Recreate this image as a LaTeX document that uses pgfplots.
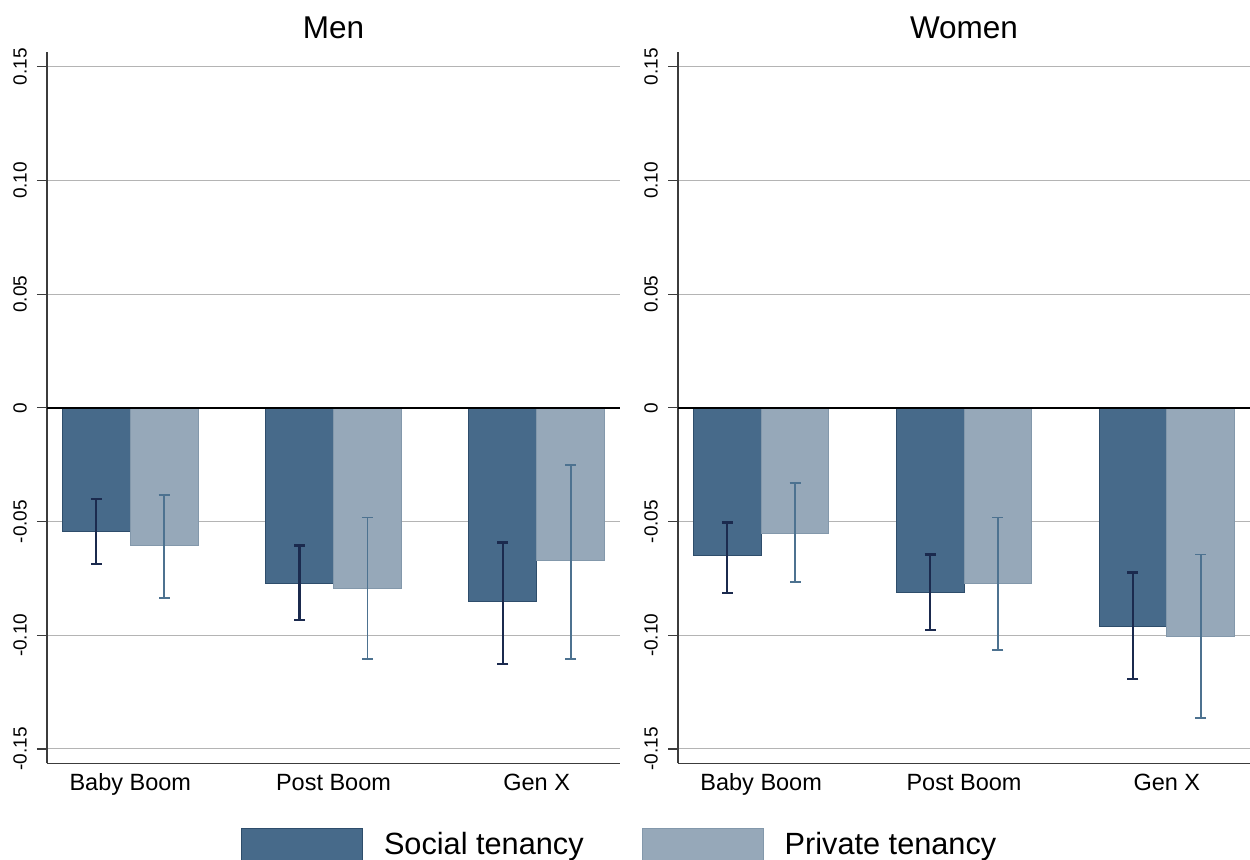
\documentclass[border=0pt]{standalone}
\usepackage{fontspec}
\setmainfont{Liberation Sans}
\usepackage{pgfplots}
\usepackage{pgfplotstable}
\pgfplotsset{compat=1.18}

\definecolor{socfill}{RGB}{71,106,138}
\definecolor{socedge}{RGB}{46,77,107}
\definecolor{socerr}{RGB}{27,42,78}
\definecolor{prifill}{RGB}{150,168,185}
\definecolor{priedge}{RGB}{131,152,171}
\definecolor{prierr}{RGB}{77,114,144}
\definecolor{gridc}{RGB}{180,180,180}
\definecolor{axc}{RGB}{60,60,60}

\pgfplotstableread{
x y lo hi
0 -0.0542 -0.0685 -0.0401
1 -0.0771 -0.0932 -0.0605
2 -0.0851 -0.1127 -0.0592
}\menSoc
\pgfplotstableread{
x y lo hi
0 -0.0604 -0.0835 -0.0385
1 -0.0794 -0.1103 -0.0482
2 -0.0670 -0.1103 -0.0253
}\menPri
\pgfplotstableread{
x y lo hi
0 -0.0650 -0.0813 -0.0504
1 -0.0812 -0.0976 -0.0645
2 -0.0961 -0.1192 -0.0724
}\womSoc
\pgfplotstableread{
x y lo hi
0 -0.0551 -0.0765 -0.0331
1 -0.0771 -0.1064 -0.0482
2 -0.1004 -0.1365 -0.0645
}\womPri

\pgfplotsset{
  panel/.style={
    scale only axis, height=711.6bp,
    anchor=south west,
    xmin=-0.41, xmax=2.41, ymin=-0.1563, ymax=0.1566,
    axis lines*=left,
    axis line style={color=axc, line width=1.2bp},
    xtick={0,1,2}, xticklabels={Baby Boom, Post Boom, Gen X},
    x tick style={draw=none},
    xticklabel style={font=\fontsize{23.5bp}{27bp}\selectfont, anchor=base, yshift=-17.7bp, inner sep=0pt},
    ytick={-0.15,-0.10,-0.05,0,0.05,0.10,0.15},
    yticklabels={-0.15,-0.10,-0.05,0,0.05,0.10,0.15},
    y tick style={color=axc, line width=1.2bp}, major tick length=10bp,
    tick align=outside, ytick pos=left,
    yticklabel style={font=\fontsize{19bp}{22bp}\selectfont, xshift=-10bp, rotate=90, anchor=south, inner sep=0pt},
    ymajorgrids, major grid style={color=gridc, line width=1bp},
    every axis title/.style={at={(0.5,1)}, anchor=base, yshift=12.7bp, font=\fontsize{31.5bp}{36bp}\selectfont},
  },
  socbar/.style={ybar, bar width=0.334, bar shift=-0.167, fill=socfill, draw=socedge, line width=1bp, forget plot},
  pribar/.style={ybar, bar width=0.334, bar shift=0.167, fill=prifill, draw=priedge, line width=1bp, forget plot},
  socerrp/.style={draw=none, mark=none, forget plot,
    error bars/.cd, y dir=both, y explicit,
    error bar style={draw=socerr, line width=2.2bp},
    error mark options={rotate=90, draw=socerr, line width=2.2bp, mark size=5.5bp}},
  prierrp/.style={draw=none, mark=none, forget plot,
    error bars/.cd, y dir=both, y explicit,
    error bar style={draw=prierr, line width=1.8bp},
    error mark options={rotate=90, draw=prierr, line width=1.8bp, mark size=5.5bp}},
}

\begin{document}
\begin{tikzpicture}[x=1bp,y=1bp]
\begin{axis}[panel, width=573bp, at={(47bp,96.7bp)}, title={Men},
  legend columns=2,
  legend style={at={(0.3386,-0.0909)}, anchor=north west, draw=none, fill=none,
    inner sep=0pt, outer sep=0pt,
    nodes={inner sep=0pt, font=\fontsize{30.7bp}{35bp}\selectfont},
    /tikz/every odd column/.append style={column sep=21bp},
    /tikz/every even column/.append style={column sep=58bp}},
  legend cell align=left]
\addplot[socbar] table[x=x, y=y] {\menSoc};
\addplot[pribar] table[x=x, y=y] {\menPri};
\draw[black, line width=2.5bp] (axis cs:-0.41,0) -- (axis cs:2.41,0);
\addplot[socerrp] table[x expr=\thisrow{x}-0.167, y=y, y error plus expr=\thisrow{hi}-\thisrow{y}, y error minus expr=\thisrow{y}-\thisrow{lo}] {\menSoc};
\addplot[prierrp] table[x expr=\thisrow{x}+0.167, y=y, y error plus expr=\thisrow{hi}-\thisrow{y}, y error minus expr=\thisrow{y}-\thisrow{lo}] {\menPri};
\addlegendimage{legend image code/.code={\draw[fill=socfill, draw=socedge, line width=1bp] (0bp,-16bp) rectangle (121bp,16bp);}}
\addlegendentry{Social tenancy}
\addlegendimage{legend image code/.code={\draw[fill=prifill, draw=priedge, line width=1bp] (0bp,-16bp) rectangle (121bp,16bp);}}
\addlegendentry{Private tenancy}
\end{axis}
\begin{axis}[panel, width=572bp, at={(678bp,96.7bp)}, title={Women}]
\addplot[socbar] table[x=x, y=y] {\womSoc};
\addplot[pribar] table[x=x, y=y] {\womPri};
\draw[black, line width=2.5bp] (axis cs:-0.41,0) -- (axis cs:2.41,0);
\addplot[socerrp] table[x expr=\thisrow{x}-0.167, y=y, y error plus expr=\thisrow{hi}-\thisrow{y}, y error minus expr=\thisrow{y}-\thisrow{lo}] {\womSoc};
\addplot[prierrp] table[x expr=\thisrow{x}+0.167, y=y, y error plus expr=\thisrow{hi}-\thisrow{y}, y error minus expr=\thisrow{y}-\thisrow{lo}] {\womPri};
\end{axis}
\pgfresetboundingbox
\path[use as bounding box] (0,0) rectangle (1250,860);
\end{tikzpicture}
\end{document}
